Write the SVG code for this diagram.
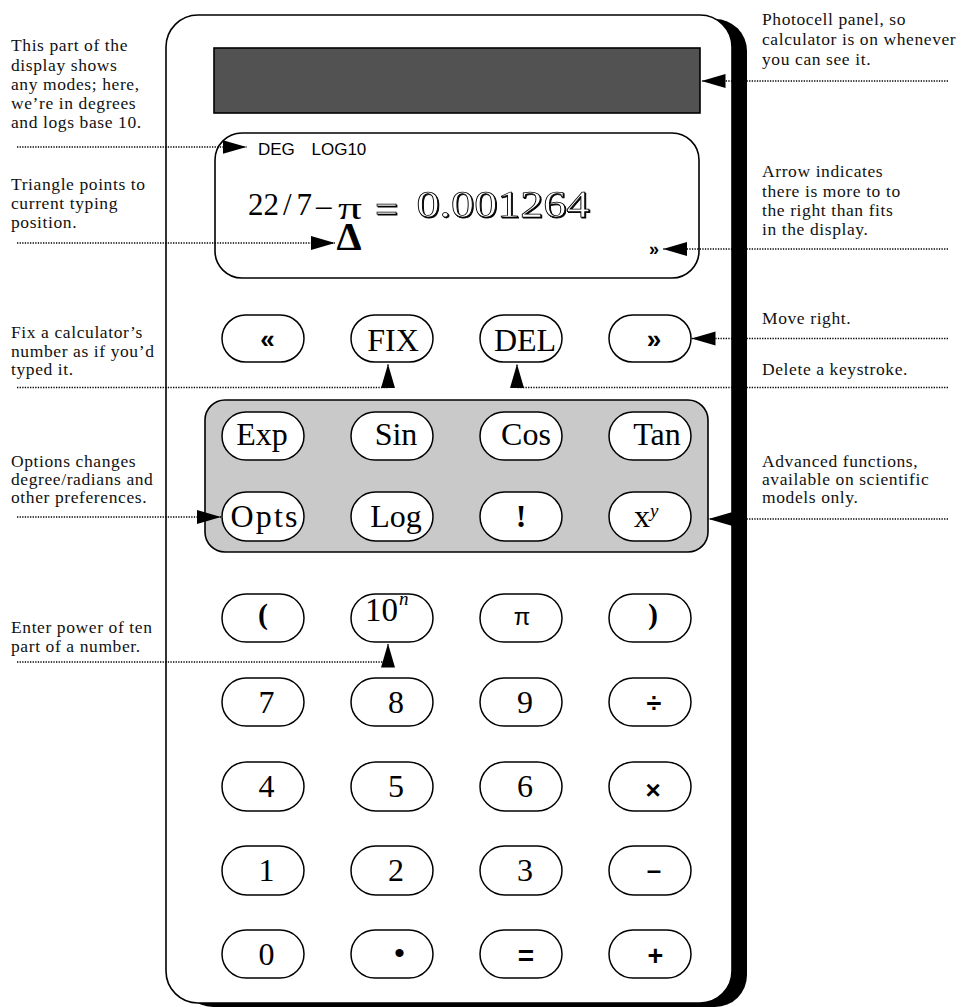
<svg xmlns="http://www.w3.org/2000/svg" width="969" height="1007" viewBox="0 0 969 1007">
<defs>
<style>
.note{font-family:"Liberation Serif",serif;font-size:17.5px;letter-spacing:0.6px;fill:#111}
.key{fill:#fff;stroke:#000;stroke-width:1.5}
.kl{font-family:"Liberation Serif",serif;font-size:32px;text-anchor:middle;fill:#000}
.ks{font-family:"Liberation Sans",sans-serif;font-weight:bold;text-anchor:middle;fill:#000}
.dot{fill:none;stroke:#000;stroke-width:1.3;stroke-dasharray:1.3 1.3}
.lcd{font-family:"Liberation Serif",serif;fill:#000}
.big{font-family:"Liberation Serif",serif;fill:#fff;stroke:#000;stroke-width:0.75}
</style>
<marker id="ah" markerUnits="userSpaceOnUse" markerWidth="25" markerHeight="15" refX="24" refY="7" orient="auto" viewBox="0 0 25 15">
<path d="M0,0 L24,7 L0,14 z" fill="#000"/>
</marker>
<filter id="sh" x="-10%" y="-20%" width="130%" height="150%">
<feOffset in="SourceAlpha" dx="1.3" dy="1.3" result="o"/>
<feMerge><feMergeNode in="o"/><feMergeNode in="SourceGraphic"/></feMerge>
</filter>
</defs>

<g id="calculator-body">
<rect x="181" y="19" width="566" height="988" rx="32" fill="#000"/>
<rect x="166" y="15" width="566" height="988" rx="32" fill="#fff" stroke="#000" stroke-width="1.6"/>
</g>

<g id="photocell">
<rect x="214" y="48" width="486" height="65" fill="#525252" stroke="#000" stroke-width="1.6"/>
</g>

<g id="display">
<rect x="215" y="133" width="484" height="145" rx="27" fill="#fff" stroke="#000" stroke-width="1.6"/>
<text x="258" y="154.5" font-family="Liberation Sans,sans-serif" font-size="17" fill="#000">DEG <tspan x="311.5">LOG10</tspan></text>
<text class="lcd" font-size="31" y="214.5"><tspan x="248">22</tspan><tspan x="283">/</tspan><tspan x="296.5">7</tspan><tspan x="316" y="216">–</tspan></text>
<text class="lcd" x="338" y="218.5" font-size="32" textLength="24" lengthAdjust="spacingAndGlyphs">π</text>
<text class="big" x="375" y="223" font-size="40" textLength="23" lengthAdjust="spacingAndGlyphs" filter="url(#sh)">=</text>
<text class="big" x="416.5" y="216.7" font-size="37.5" textLength="173" lengthAdjust="spacingAndGlyphs" filter="url(#sh)">0.001264</text>
<text class="lcd" x="336.5" y="250" font-size="40" font-weight="bold">Δ</text>
<text class="ks" x="654" y="254.5" font-size="18">»</text>
</g>

<g id="scientific-panel">
<rect x="205" y="400" width="503" height="152" rx="20" fill="#c9c9c9" stroke="#000" stroke-width="1.6"/>
</g>

<g id="key-left"><rect class="key" x="222" y="315" width="82" height="47" rx="23.5"/><text class="ks" x="267.5" y="348" style="font-size:26px">«</text></g>
<g id="key-fix"><rect class="key" x="351" y="315" width="82" height="47" rx="23.5"/><text class="kl" x="393" y="351">FIX</text></g>
<g id="key-del"><rect class="key" x="480" y="315" width="82" height="47" rx="23.5"/><text class="kl" x="525" y="351">DEL</text></g>
<g id="key-right"><rect class="key" x="609" y="315" width="82" height="47" rx="23.5"/><text class="ks" x="654" y="348" style="font-size:26px">»</text></g>

<g id="key-exp"><rect class="key" x="222" y="412" width="82" height="48" rx="24"/><text class="kl" x="262" y="445">Exp</text></g>
<g id="key-sin"><rect class="key" x="351" y="412" width="82" height="48" rx="24"/><text class="kl" x="396" y="445">Sin</text></g>
<g id="key-cos"><rect class="key" x="480" y="412" width="82" height="48" rx="24"/><text class="kl" x="526" y="445">Cos</text></g>
<g id="key-tan"><rect class="key" x="609" y="412" width="82" height="48" rx="24"/><text class="kl" x="657" y="445">Tan</text></g>

<g id="key-opts"><rect class="key" x="222" y="492" width="82" height="49" rx="24.5"/><text class="kl" x="264" y="527" textLength="67" lengthAdjust="spacing">Opts</text></g>
<g id="key-log"><rect class="key" x="351" y="492" width="82" height="49" rx="24.5"/><text class="kl" x="396" y="527">Log</text></g>
<g id="key-fact"><rect class="key" x="480" y="492" width="82" height="49" rx="24.5"/><text class="kl" x="521" y="527" style="font-weight:bold">!</text></g>
<g id="key-pow"><rect class="key" x="609" y="492" width="82" height="49" rx="24.5"/><text class="lcd" x="634" y="527" font-size="32">x<tspan x="650" y="517" font-size="19" font-style="italic">y</tspan></text></g>

<g id="key-lparen"><rect class="key" x="222" y="594" width="82" height="48" rx="24"/><text class="kl" x="263" y="624" style="font-size:30px;font-weight:bold">(</text></g>
<g id="key-exp10"><rect class="key" x="351" y="594" width="82" height="48" rx="24"/><text class="lcd" x="365" y="621" font-size="33">10<tspan x="399" y="605" font-size="19" font-style="italic">n</tspan></text></g>
<g id="key-pi"><rect class="key" x="480" y="594" width="82" height="48" rx="24"/><text class="ks" x="522" y="625" style="font-size:24px;font-weight:normal">π</text></g>
<g id="key-rparen"><rect class="key" x="609" y="594" width="82" height="48" rx="24"/><text class="kl" x="653" y="624" style="font-size:30px;font-weight:bold">)</text></g>

<g id="key-7"><rect class="key" x="222" y="678" width="82" height="48" rx="24"/><text class="kl" x="266.5" y="712.5">7</text></g>
<g id="key-8"><rect class="key" x="351" y="678" width="82" height="48" rx="24"/><text class="kl" x="396" y="712.5">8</text></g>
<g id="key-9"><rect class="key" x="480" y="678" width="82" height="48" rx="24"/><text class="kl" x="525" y="712.5">9</text></g>
<g id="key-div"><rect class="key" x="609" y="678" width="82" height="48" rx="24"/><text class="ks" x="654" y="711.5" style="font-size:27px">÷</text></g>

<g id="key-4"><rect class="key" x="222" y="762" width="82" height="49" rx="24.5"/><text class="kl" x="266.5" y="796.5">4</text></g>
<g id="key-5"><rect class="key" x="351" y="762" width="82" height="49" rx="24.5"/><text class="kl" x="396" y="796.5">5</text></g>
<g id="key-6"><rect class="key" x="480" y="762" width="82" height="49" rx="24.5"/><text class="kl" x="525" y="796.5">6</text></g>
<g id="key-mul"><rect class="key" x="609" y="762" width="82" height="49" rx="24.5"/><text class="ks" x="653" y="798.5" style="font-size:26px">×</text></g>

<g id="key-1"><rect class="key" x="222" y="846" width="82" height="49" rx="24.5"/><text class="kl" x="266.5" y="880.5">1</text></g>
<g id="key-2"><rect class="key" x="351" y="846" width="82" height="49" rx="24.5"/><text class="kl" x="396" y="880.5">2</text></g>
<g id="key-3"><rect class="key" x="480" y="846" width="82" height="49" rx="24.5"/><text class="kl" x="525" y="880.5">3</text></g>
<g id="key-sub"><rect class="key" x="609" y="846" width="82" height="49" rx="24.5"/><text class="ks" x="654" y="879" style="font-size:26px">–</text></g>

<g id="key-0"><rect class="key" x="222" y="930" width="82" height="48" rx="24"/><text class="kl" x="266.5" y="964.5">0</text></g>
<g id="key-dot"><rect class="key" x="351" y="930" width="82" height="48" rx="24"/><text class="ks" x="399.5" y="963" style="font-size:30px;font-weight:normal">•</text></g>
<g id="key-eq"><rect class="key" x="480" y="930" width="82" height="48" rx="24"/><text class="ks" x="526" y="964.5" style="font-size:28px">=</text></g>
<g id="key-add"><rect class="key" x="609" y="930" width="82" height="48" rx="24"/><text class="ks" x="655.5" y="964.5" style="font-size:27px">+</text></g>

<g id="connectors">
<path class="dot" d="M17,147 H246.5" marker-end="url(#ah)"/>
<path class="dot" d="M17,243 H335" marker-end="url(#ah)"/>
<path class="dot" d="M17,387.5 H388 V364" marker-end="url(#ah)"/>
<path class="dot" d="M17,517 H221" marker-end="url(#ah)"/>
<path class="dot" d="M17,662 H388 V643.5" marker-end="url(#ah)"/>
<path class="dot" d="M948,81 H701.5" marker-end="url(#ah)"/>
<path class="dot" d="M948,249 H663" marker-end="url(#ah)"/>
<path class="dot" d="M948,338.5 H691.5" marker-end="url(#ah)"/>
<path class="dot" d="M948,387.5 H517 V364" marker-end="url(#ah)"/>
<path class="dot" d="M948,519 H708.5" marker-end="url(#ah)"/>
</g>

<g id="note-modes"><text class="note"><tspan x="11" y="51">This part of the</tspan><tspan x="11" y="70.5">display shows</tspan><tspan x="11" y="89.5">any modes; here,</tspan><tspan x="11" y="109">we’re in degrees</tspan><tspan x="11" y="128">and logs base 10.</tspan></text></g>
<g id="note-triangle"><text class="note"><tspan x="11" y="190">Triangle points to</tspan><tspan x="11" y="209">current typing</tspan><tspan x="11" y="228">position.</tspan></text></g>
<g id="note-fix"><text class="note"><tspan x="11" y="338">Fix a calculator’s</tspan><tspan x="11" y="356.5">number as if you’d</tspan><tspan x="11" y="375">typed it.</tspan></text></g>
<g id="note-options"><text class="note"><tspan x="11" y="466.5">Options changes</tspan><tspan x="11" y="485">degree/radians and</tspan><tspan x="11" y="503">other preferences.</tspan></text></g>
<g id="note-power"><text class="note"><tspan x="11" y="633">Enter power of ten</tspan><tspan x="11" y="651.5">part of a number.</tspan></text></g>

<g id="note-photocell"><text class="note"><tspan x="762" y="25">Photocell panel, so</tspan><tspan x="762" y="45">calculator is on whenever</tspan><tspan x="762" y="64.5">you can see it.</tspan></text></g>
<g id="note-arrow"><text class="note"><tspan x="762" y="177">Arrow indicates</tspan><tspan x="762" y="196.5">there is more to to</tspan><tspan x="762" y="215.5">the right than fits</tspan><tspan x="762" y="235">in the display.</tspan></text></g>
<g id="note-move"><text class="note" x="762" y="323.5">Move right.</text></g>
<g id="note-delete"><text class="note" x="762" y="375">Delete a keystroke.</text></g>
<g id="note-advanced"><text class="note"><tspan x="762" y="466.5">Advanced functions,</tspan><tspan x="762" y="485">available on scientific</tspan><tspan x="762" y="503">models only.</tspan></text></g>
</svg>
